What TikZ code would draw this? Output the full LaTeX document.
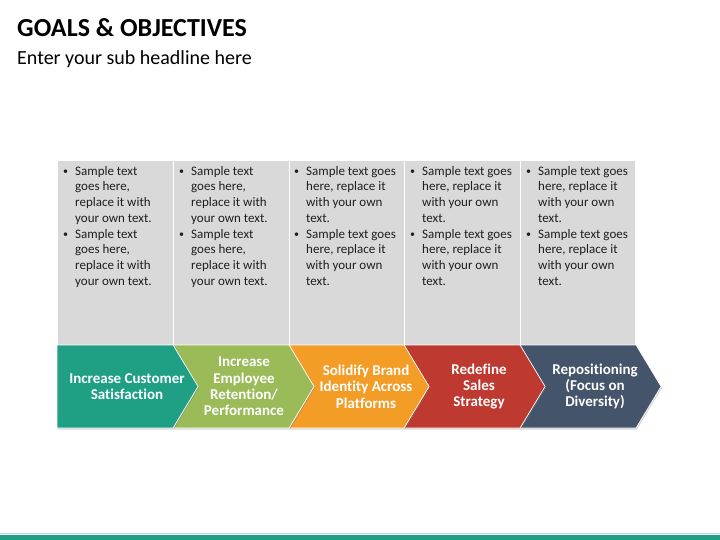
\documentclass[tikz,border=0pt]{standalone}
\usepackage{fontspec}
\setmainfont{Carlito}[Ligatures=CommonOff]
\usetikzlibrary{shadows}

\definecolor{goalteal}{HTML}{1FA085}
\definecolor{goalgreen}{HTML}{9BBB59}
\definecolor{goalorange}{HTML}{F39C26}
\definecolor{goalred}{HTML}{BE3A31}
\definecolor{goalnavy}{HTML}{44546A}
\definecolor{panegray}{HTML}{D9D9D9}

\newcommand{\bul}{\makebox[13bp][l]{\hspace{1bp}\raisebox{0.8bp}{\fontsize{10bp}{10bp}\selectfont\textbullet}}}
\newcommand{\bulskip}{\hspace*{13bp}}

\begin{document}
\begin{tikzpicture}[
    x=1bp, y=-1bp,
    pane/.style={fill=panegray, draw=white, line width=1.2bp,
                 minimum width=116bp, minimum height=185bp, anchor=north west},
    pts/.style={anchor=north west, align=left, inner sep=0pt,
                font=\fontsize{13bp}{15.7bp}\selectfont, text=black!88},
    chev/.style={fill=#1, draw=white, line width=0.6bp,
                 drop shadow={shadow xshift=1bp, shadow yshift=-1.5bp, opacity=0.3}},
    chevtext/.style={text=white, align=center, inner sep=0pt,
                     font=\fontsize{15bp}{16.3bp}\selectfont\bfseries},
  ]
    \useasboundingbox (0,0) rectangle (720,540);

    % --- headline ---------------------------------------------------------
    \node[anchor=base west, inner sep=0pt,
          font=\fontsize{26bp}{30bp}\selectfont\bfseries] (title) at (17,37)
      {GOALS \& OBJECTIVES};
    \node[anchor=base west, inner sep=0pt,
          font=\fontsize{20bp}{24bp}\selectfont] (subtitle) at (17,65)
      {Enter your sub headline here};

    % --- grey text panes ----------------------------------------------------
    \node[pane] (pane1) at (57,160) {};
    \node[pane] (pane2) at (173,160) {};
    \node[pane] (pane3) at (289,160) {};
    \node[pane] (pane4) at (404,160) {};
    \node[pane, minimum width=115bp] (pane5) at (520,160) {};

    \node[pts] (pts1) at (62,166)
      {\bul Sample text\\\bulskip goes here,\\\bulskip replace it with\\\bulskip your own text.\\
       \bul Sample text\\\bulskip goes here,\\\bulskip replace it with\\\bulskip your own text.};
    \node[pts] (pts2) at (178,166)
      {\bul Sample text\\\bulskip goes here,\\\bulskip replace it with\\\bulskip your own text.\\
       \bul Sample text\\\bulskip goes here,\\\bulskip replace it with\\\bulskip your own text.};
    \node[pts] (pts3) at (293,166)
      {\bul Sample text goes\\\bulskip here, replace it\\\bulskip with your own\\\bulskip text.\\
       \bul Sample text goes\\\bulskip here, replace it\\\bulskip with your own\\\bulskip text.};
    \node[pts] (pts4) at (409,166)
      {\bul Sample text goes\\\bulskip here, replace it\\\bulskip with your own\\\bulskip text.\\
       \bul Sample text goes\\\bulskip here, replace it\\\bulskip with your own\\\bulskip text.};
    \node[pts] (pts5) at (525,166)
      {\bul Sample text goes\\\bulskip here, replace it\\\bulskip with your own\\\bulskip text.\\
       \bul Sample text goes\\\bulskip here, replace it\\\bulskip with your own\\\bulskip text.};

    % --- chevron row --------------------------------------------------------
    \path[chev=goalnavy]
      (520,345) -- (636,345) -- (661,386.5) -- (636,428) -- (520,428) -- (545,386.5) -- cycle;
    \path[chev=goalred]
      (404,345) -- (520,345) -- (545,386.5) -- (520,428) -- (404,428) -- (429,386.5) -- cycle;
    \path[chev=goalorange]
      (289,345) -- (404,345) -- (429,386.5) -- (404,428) -- (289,428) -- (314,386.5) -- cycle;
    \path[chev=goalgreen]
      (173,345) -- (289,345) -- (314,386.5) -- (289,428) -- (173,428) -- (198,386.5) -- cycle;
    \path[chev=goalteal]
      (57,345) -- (173,345) -- (198,386.5) -- (173,428) -- (57,428) -- cycle;

    \node[chevtext] (goal1) at (127,386.5) {Increase Customer\\Satisfaction};
    \node[chevtext] (goal2) at (244,386.5) {Increase\\Employee\\Retention/\\Performance};
    \node[chevtext] (goal3) at (366,386.5) {Solidify Brand\\Identity Across\\Platforms};
    \node[chevtext] (goal4) at (479,386.5) {Redefine\\Sales\\Strategy};
    \node[chevtext] (goal5) at (595,386.5) {Repositioning\\(Focus on\\Diversity)};

    % --- footer bar ---------------------------------------------------------
    \fill[goalteal!35] (0,533.3) rectangle (720,534.3);
    \fill[goalteal] (0,534.8) rectangle (720,540);
\end{tikzpicture}
\end{document}
